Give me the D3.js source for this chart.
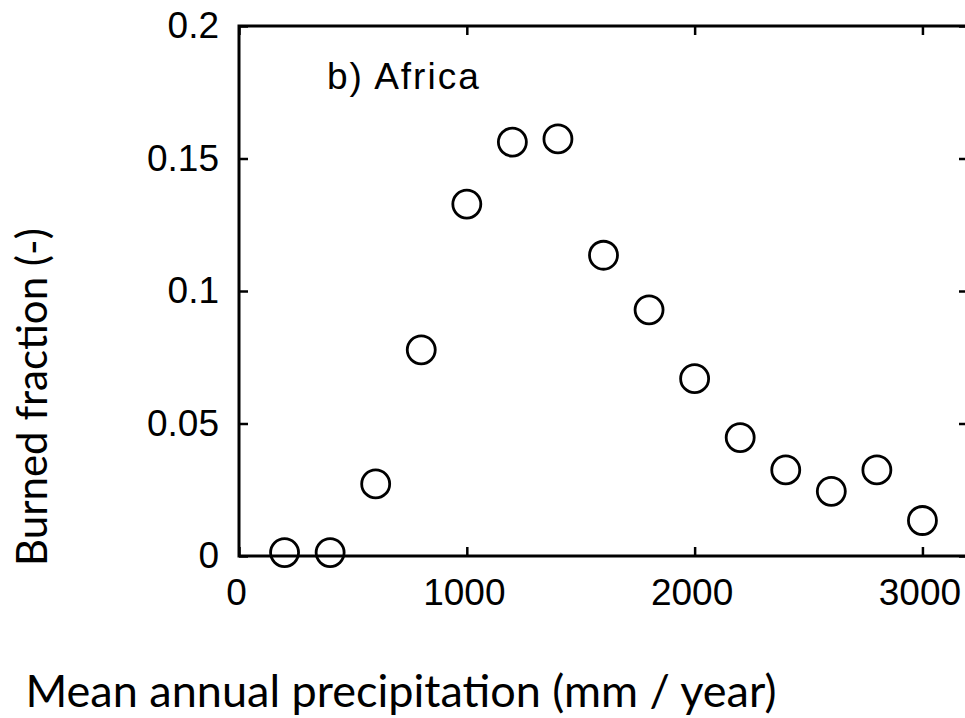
<!DOCTYPE html>
<html>
<head>
<meta charset="utf-8">
<script src="https://cdn.jsdelivr.net/npm/d3@7"></script>
<style>
	body { margin: 0; background: #fff; }
	svg { display: block; }
</style>
</head>
<body>
<svg id="chart" width="965" height="718"></svg>
<script>
// Values
const precipitation = [200, 400, 600, 800, 1000, 1200, 1400, 1600, 1800, 2000, 2200, 2400, 2600, 2800, 3000];
const burnedFraction = [0.0013, 0.0013, 0.0272, 0.0778, 0.1328, 0.1562, 0.1574, 0.1135, 0.0929, 0.0669, 0.0447, 0.0325, 0.0244, 0.0325, 0.0134];
const xTicks = [0, 1000, 2000, 3000];
const yTicks = [0, 0.05, 0.1, 0.15, 0.2];
const panelLabel = "b) Africa";
const xTitle = "Mean annual precipitation (mm / year)";
const yTitle = "Burned fraction (-)";

const width = 965,
	height = 718,
	margin = { top: 26, right: -3, bottom: 162, left: 239 };
const tickFont = "'Liberation Sans', Arial, sans-serif";
const titleFont = "Lato, 'Open Sans', sans-serif";

const svg = d3.select("#chart");

// D3 scales
const x = d3.scaleLinear().domain([0, 3200]).range([margin.left, width - margin.right]);
const y = d3.scaleLinear().domain([0, 0.2]).range([height - margin.bottom, margin.top]);

const fmtY = d3.format("~g");

// axes with inward ticks
const axisStyle = (g) => {
	g.select(".domain").remove();
	g.selectAll(".tick line").attr("stroke", "#000").attr("stroke-width", 2.5);
	g.selectAll(".tick text")
		.attr("fill", "#000")
		.attr("font-family", tickFont)
		.attr("font-size", 37);
};

svg.append("g")
	.attr("transform", `translate(${margin.left},0)`)
	.call(d3.axisLeft(y).tickValues(yTicks).tickFormat(fmtY).tickSize(-9).tickPadding(20))
	.call(axisStyle);

svg.append("g")
	.attr("transform", `translate(0,${height - margin.bottom})`)
	.call(d3.axisBottom(x).tickValues(xTicks).tickFormat(d3.format("d")).tickSize(-9).tickPadding(23))
	.call(axisStyle)
	.call((g) => g.selectAll(".tick text").attr("dx", -3));

svg.append("g")
	.attr("transform", `translate(0,${margin.top})`)
	.call(d3.axisTop(x).tickValues(xTicks).tickFormat("").tickSize(-9))
	.call(axisStyle);

svg.append("g")
	.attr("transform", `translate(${width - margin.right},0)`)
	.call(d3.axisRight(y).tickValues(yTicks).tickFormat("").tickSize(-9))
	.call(axisStyle);

// frame
svg.append("rect")
	.attr("x", x(0))
	.attr("y", y(0.2))
	.attr("width", x(3200) - x(0))
	.attr("height", y(0) - y(0.2))
	.attr("fill", "none")
	.attr("stroke", "#000")
	.attr("stroke-width", 3);

// points
svg.append("g")
	.selectAll("circle")
	.data(precipitation.map((p, i) => [p, burnedFraction[i]]))
	.join("circle")
	.attr("cx", (d) => x(d[0]))
	.attr("cy", (d) => y(d[1]))
	.attr("r", 14)
	.attr("fill", "none")
	.attr("stroke", "#000")
	.attr("stroke-width", 2.8);

// panel label
svg.append("text")
	.attr("x", margin.left + 88)
	.attr("y", margin.top + 63)
	.attr("font-family", tickFont)
	.attr("font-size", 37)
	.attr("letter-spacing", 2)
	.attr("fill", "#000")
	.text(panelLabel);

// axis titles
svg.append("text")
	.attr("x", 401)
	.attr("y", 707)
	.attr("text-anchor", "middle")
	.attr("font-family", titleFont)
	.attr("font-size", 45)
	.attr("fill", "#000")
	.text(xTitle);

svg.append("text")
	.attr("transform", `translate(47,397) rotate(-90)`)
	.attr("text-anchor", "middle")
	.attr("font-family", titleFont)
	.attr("font-size", 42)
	.attr("fill", "#000")
	.text(yTitle);
</script>
</body>
</html>
